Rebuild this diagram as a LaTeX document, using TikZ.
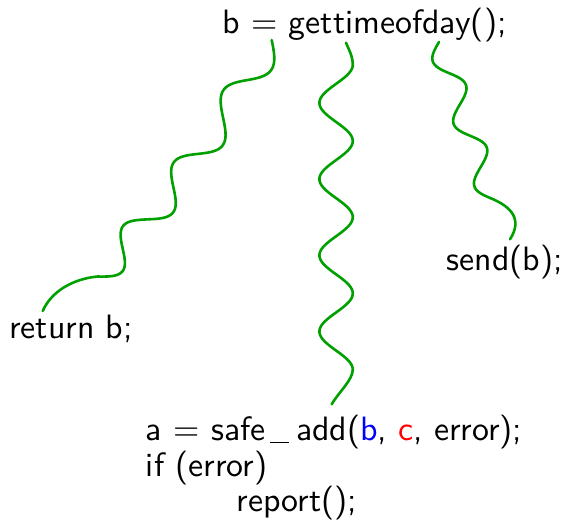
\documentclass[tikz,border=0pt]{standalone}
\usepackage{graphicx}
\definecolor{wavegreen}{RGB}{0,160,0}
\newcommand\codeline[1]{\scalebox{1.69}{\sffamily\fontsize{10}{12}\selectfont #1}}
\newcommand\usc{\kern0.12em\rule[-0.08em]{0.58em}{0.055em}\kern0.2em}
\begin{document}
\begin{tikzpicture}[x=0.5pt,y=-0.5pt,
  codetext/.style={anchor=base west,inner sep=0pt,outer sep=0pt},
  wave/.style={draw=wavegreen,line width=1.3pt,line cap=round,line join=round}]
\useasboundingbox (0,0) rectangle (564,526);
\node[codetext] (top) at (222.7,33.3) {\codeline{b = gettimeofday();}};
\node[codetext] (ret) at (9.3,338) {\codeline{return b;}};
\node[codetext] (send) at (446.7,270) {\codeline{send(b);}};
\node[codetext] (add) at (146,440.7) {\codeline{a = safe\usc add(\textcolor{blue}{b}, \textcolor{red}{c}, error);}};
\node[codetext] (iferr) at (146,476.7) {\codeline{if (error)}};
\node[codetext] (rep) at (236.7,511.7) {\codeline{report();}};
\coordinate (s1) at (271.7,40);
\coordinate (s2) at (346,42.7);
\coordinate (s3) at (439,42);
\coordinate (e1) at (42.7,311);
\coordinate (e2) at (331.7,404.3);
\coordinate (e3) at (510,239.3);
% from "=" to return b;
\draw[wave] (s1) -- plot[domain=0:1,samples=200]
  ({(1-\x)^2*271.7+2*\x*(1-\x)*187.65+\x^2*97+12.1*sin(1260*\x)},
   {(1-\x)^2*40+2*\x*(1-\x)*183.75+\x^2*276.5+8.85*sin(1260*\x)})
  .. controls (72,279) and (51,292) .. (e1);
% from gettimeofday to safe_add
\draw[wave] (s2) .. controls (348.5,49) and (352.8,56) .. (352.8,64.8)
  -- plot[domain=64.8:369.6,samples=160] ({336.1+16.7*sin(4.7244*(\x-45.75))},\x)
  .. controls (352.8,380) and (338,393) .. (e2);
% from day to send(b);
\draw[wave] (s3) -- plot[domain=0:164.75,samples=130]
  ({439+0.316*\x+11.39*sin(5.4628*\x-180)},{42+0.949*\x-3.79*sin(5.4628*\x-180)})
  .. controls (511,206.7) and (523,219) .. (e3);
\end{tikzpicture}
\end{document}
